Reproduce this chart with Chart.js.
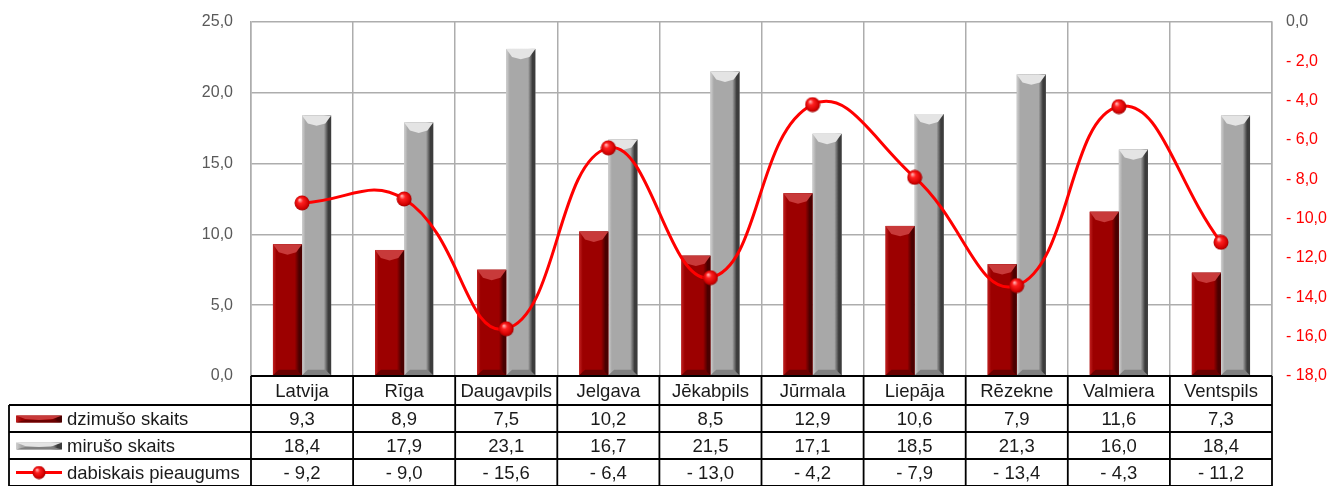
<!DOCTYPE html>
<html>
<head>
<meta charset="utf-8">
<script src="https://cdn.jsdelivr.net/npm/chart.js@4/dist/chart.umd.min.js"></script>
<style>
    html, body { margin: 0; padding: 0; background: #fff; }
</style>
</head>
<body>
<canvas id="chart" width="1330" height="486"></canvas>
<script>
const categories = ['Latvija', 'Rīga', 'Daugavpils', 'Jelgava', 'Jēkabpils', 'Jūrmala', 'Liepāja', 'Rēzekne', 'Valmiera', 'Ventspils'];
const births = [9.3, 8.9, 7.5, 10.2, 8.5, 12.9, 10.6, 7.9, 11.6, 7.3];
const deaths = [18.4, 17.9, 23.1, 16.7, 21.5, 17.1, 18.5, 21.3, 16.0, 18.4];
const growth = [-9.2, -9.0, -15.6, -6.4, -13.0, -4.2, -7.9, -13.4, -4.3, -11.2];
const seriesNames = ['dzimušo skaits', 'mirušo skaits', 'dabiskais pieaugums'];

const FONT = '"Liberation Sans", Arial, sans-serif';
const GRID = '#ADADAD';

function fmt(v) {
    const s = Math.abs(v).toFixed(1).replace('.', ',');
    return v < 0 ? '- ' + s : s;
}

// red sphere used for line markers
function makeSphere(size) {
    const c = document.createElement('canvas');
    c.width = size; c.height = size;
    const g = c.getContext('2d');
    const r = size / 2;
    const grad = g.createRadialGradient(r * 0.7, r * 0.6, 0.5, r, r, r);
    grad.addColorStop(0, '#ffb0b0');
    grad.addColorStop(0.3, '#ff2020');
    grad.addColorStop(0.8, '#d00000');
    grad.addColorStop(1, '#8a0000');
    g.fillStyle = grad;
    g.beginPath();
    g.arc(r, r, r - 0.5, 0, Math.PI * 2);
    g.fill();
    return c;
}
const sphere = makeSphere(16);

const palettes = {
    red: {light: '#c02020', face: '#9c0000', dark: '#4a0000', bevel: '#c83a3a', bottom: '#6a0000'},
    gray: {light: '#d0d0d0', face: '#a8a8a8', dark: '#3c3c3c', bevel: '#e4e4e4', bottom: '#808080'}
};

function drawBevelBar(ctx, left, right, top, bottom, p) {
    const w = right - left;
    const grad = ctx.createLinearGradient(left, 0, right, 0);
    grad.addColorStop(0, p.light);
    grad.addColorStop(0.12, p.face);
    grad.addColorStop(0.75, p.face);
    grad.addColorStop(0.9, p.dark);
    grad.addColorStop(1, p.dark);
    ctx.fillStyle = grad;
    ctx.fillRect(left, top, w, bottom - top);
    const b = Math.min(8, (bottom - top) / 2);
    // top bevel
    ctx.fillStyle = p.bevel;
    ctx.beginPath();
    ctx.moveTo(left, top);
    ctx.lineTo(right, top);
    ctx.lineTo(right - w * 0.2, top + b);
    ctx.lineTo(left + w / 2, top + b * 1.3);
    ctx.lineTo(left + w * 0.2, top + b);
    ctx.closePath();
    ctx.fill();
    // bottom bevel
    ctx.fillStyle = p.bottom;
    ctx.beginPath();
    ctx.moveTo(left, bottom);
    ctx.lineTo(right, bottom);
    ctx.lineTo(right - w * 0.2, bottom - b * 0.7);
    ctx.lineTo(left + w * 0.2, bottom - b * 0.7);
    ctx.closePath();
    ctx.fill();
}

const barShade = {
    id: 'barShade',
    afterDatasetDraw(chart, args) {
        if (args.index > 1) return;
        const ctx = chart.ctx;
        const p = args.index === 0 ? palettes.red : palettes.gray;
        ctx.save();
        args.meta.data.forEach(bar => {
            const {x, y, base, width} = bar.getProps(['x', 'y', 'base', 'width'], true);
            drawBevelBar(ctx, x - width / 2, x + width / 2, y, base, p);
        });
        ctx.restore();
    }
};

const dataTable = {
    id: 'dataTable',
    afterDraw(chart) {
        const ctx = chart.ctx;
        const area = chart.chartArea;
        const n = categories.length;
        const cw = (area.right - area.left) / n;
        const top = area.bottom;
        const rows = [top, top + 29, top + 56, top + 83, top + 110];
        const tableLeft = 9;
        ctx.save();
        ctx.strokeStyle = '#000';
        ctx.lineWidth = 1.8;
        ctx.beginPath();
        ctx.moveTo(area.left, rows[0]); ctx.lineTo(area.right, rows[0]);
        for (let r = 1; r < rows.length; r++) {
            ctx.moveTo(tableLeft, rows[r]); ctx.lineTo(area.right, rows[r]);
        }
        ctx.moveTo(tableLeft, rows[1]); ctx.lineTo(tableLeft, rows[4]);
        for (let i = 0; i <= n; i++) {
            const x = area.left + i * cw;
            ctx.moveTo(x, rows[0]); ctx.lineTo(x, rows[4]);
        }
        ctx.stroke();

        ctx.fillStyle = '#1a1a1a';
        ctx.font = '18.5px ' + FONT;
        ctx.textBaseline = 'middle';
        ctx.textAlign = 'center';
        const values = [births, deaths, growth];
        categories.forEach((c, i) => {
            const cx = area.left + (i + 0.5) * cw;
            ctx.fillText(c, cx, (rows[0] + rows[1]) / 2 + 1);
            values.forEach((vals, r) => {
                ctx.fillText(fmt(vals[i]), cx, (rows[r + 1] + rows[r + 2]) / 2 + 1);
            });
        });

        ctx.textAlign = 'left';
        seriesNames.forEach((name, r) => {
            const cy = (rows[r + 1] + rows[r + 2]) / 2;
            ctx.fillStyle = '#1a1a1a';
            ctx.fillText(name, 67, cy + 1);
            if (r < 2) {
                drawBevelBar(ctx, 16, 62, cy - 3, cy + 4, r === 0 ? palettes.red : palettes.gray);
            } else {
                ctx.strokeStyle = '#ff0000';
                ctx.lineWidth = 3;
                ctx.beginPath();
                ctx.moveTo(16, cy); ctx.lineTo(62, cy);
                ctx.stroke();
                ctx.drawImage(sphere, 39 - 7, cy - 7, 14, 14);
            }
        });
        ctx.restore();
    }
};

new Chart(document.getElementById('chart'), {
    type: 'bar',
    data: {
        labels: categories,
        datasets: [
            {
                label: seriesNames[0],
                data: births,
                backgroundColor: '#9c0000',
                yAxisID: 'y',
                barPercentage: 1,
                categoryPercentage: 0.57,
                order: 2
            },
            {
                label: seriesNames[1],
                data: deaths,
                backgroundColor: '#a8a8a8',
                yAxisID: 'y',
                barPercentage: 1,
                categoryPercentage: 0.57,
                order: 2
            },
            {
                type: 'line',
                label: seriesNames[2],
                data: growth,
                yAxisID: 'y2',
                borderColor: '#ff0000',
                borderWidth: 3,
                tension: 0.45,
                pointStyle: sphere,
                pointRadius: 8,
                order: 1
            }
        ]
    },
    options: {
        responsive: false,
        animation: false,
        devicePixelRatio: 1,
        layout: {
            padding: {top: 22, left: 0, right: 0, bottom: 0}
        },
        plugins: {
            legend: {display: false},
            tooltip: {enabled: false}
        },
        scales: {
            x: {
                grid: {color: GRID, lineWidth: 1.5, offset: true, drawTicks: false},
                border: {display: false},
                ticks: {display: false},
                afterFit(scale) {
                    scale.height = 110;
                    scale.paddingLeft = 0; scale.paddingRight = 0;
                }
            },
            y: {
                position: 'left',
                min: 0,
                max: 25,
                ticks: {
                    stepSize: 5,
                    padding: 18,
                    color: '#595959',
                    font: {family: FONT, size: 16},
                    callback: v => fmt(v)
                },
                grid: {color: GRID, lineWidth: 1.5, drawTicks: false},
                border: {color: GRID, width: 1.5},
                afterFit(scale) {
                    scale.width = 251;
                    scale.paddingTop = 0; scale.paddingBottom = 0;
                }
            },
            y2: {
                position: 'right',
                min: -18,
                max: 0,
                ticks: {
                    stepSize: 2,
                    padding: 14,
                    color: ctx => ctx.tick.value === 0 ? '#595959' : '#ff0000',
                    font: {family: FONT, size: 16},
                    callback: v => fmt(v)
                },
                grid: {drawOnChartArea: false, drawTicks: false},
                border: {color: GRID, width: 1.5},
                afterFit(scale) {
                    scale.width = 58;
                    scale.paddingTop = 0; scale.paddingBottom = 0;
                }
            }
        }
    },
    plugins: [barShade, dataTable]
});
</script>
</body>
</html>
